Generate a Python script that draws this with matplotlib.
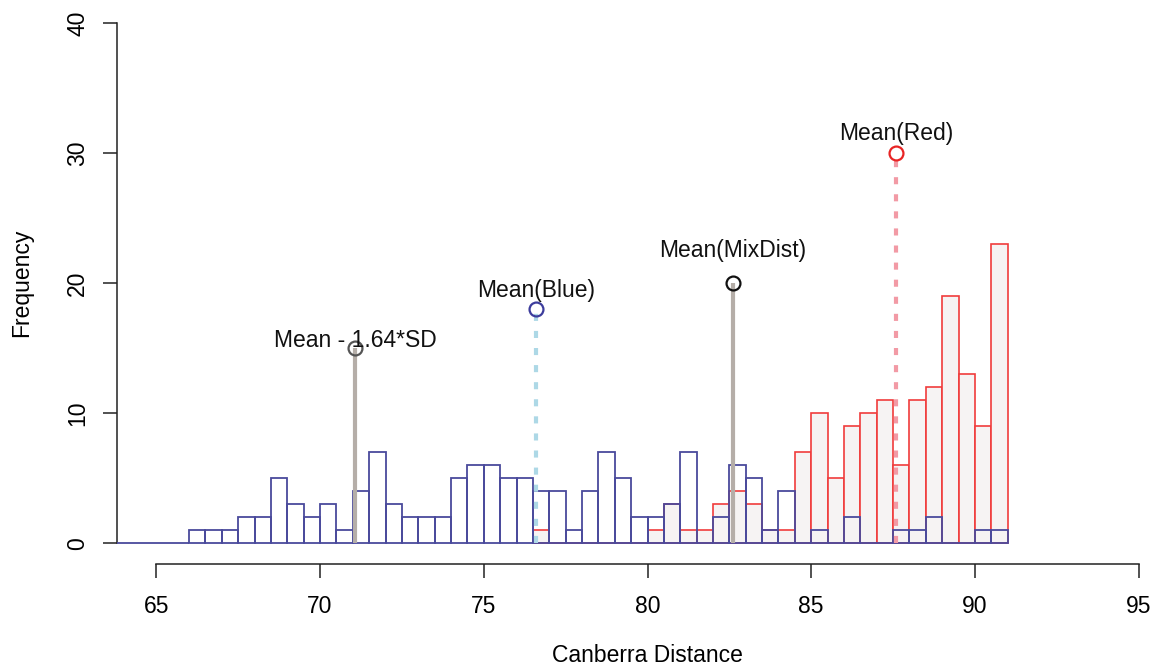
"""Histogram of Canberra distances with mean markers."""
import matplotlib
matplotlib.use("Agg")
import matplotlib.pyplot as plt

# Bins: width 0.5, blue starts at 62.0, red starts at 76.5.
bin_width = 0.5
blue_start = 62.0
blue_counts = [0, 0, 0, 0, 0, 0, 0, 0,
               1, 1, 1, 2, 2, 5, 3, 2, 3, 1, 4, 7, 3, 2, 2, 2, 5, 6, 6, 5, 5,
               4, 4, 1, 4, 7, 5, 2, 2, 3, 7, 0, 2, 6, 5, 1, 4, 0, 1, 0, 2, 0,
               0, 1, 1, 2, 0, 0, 1, 1]
red_start = 76.5
red_counts = [1, 0, 0, 0, 0, 0, 0, 1, 3, 1, 1, 3, 4, 3, 1, 1, 7, 10, 5, 9,
              10, 11, 6, 11, 12, 19, 13, 9, 23]

# Reference lines: (x, top of line, label, label y)
sd_line = (71.08, 15, "Mean - 1.64*SD", 15.55)
blue_mean = (76.6, 18, "Mean(Blue)", 19.45)
mix_mean = (82.6, 20, "Mean(MixDist)", 22.5)
red_mean = (87.6, 30, "Mean(Red)", 31.5)

plt.rcParams.update({'font.family': ['Liberation Sans', 'DejaVu Sans'],
                     'font.size': 16.5})

fig = plt.figure(figsize=(11.56, 6.70), dpi=100)
# plot region runs past the right edge like the cropped original
ax = fig.add_axes([117 / 1156, (670 - 564) / 670,
                   (1178 - 117) / 1156, (564 - 2.2) / 670])
ax.set_xlim(63.8, 96.2)
ax.set_ylim(-1.6, 41.6)

blue_x = [blue_start + i * bin_width for i in range(len(blue_counts))]
red_x = [red_start + i * bin_width for i in range(len(red_counts))]

# red first (filled), blue outlines on top
ax.bar(red_x, red_counts, width=bin_width, align='edge',
       facecolor='#f6f3f3', edgecolor='#f03c3c', linewidth=1.2, zorder=2)
ax.bar(blue_x, blue_counts, width=bin_width, align='edge',
       facecolor='none', edgecolor='#4a4a9c', linewidth=1.3, zorder=3)

# vertical lines
for (x, top, label, ly), col, ls in [
        (sd_line, '#b5aea8', '-'),
        (blue_mean, '#add8e6', (0, (1.7, 2.4))),
        (mix_mean, '#b5aea8', '-'),
        (red_mean, '#f29aa5', (0, (1.7, 2.4)))]:
    ax.plot([x, x], [0, top], color=col, linewidth=3, linestyle=ls,
            solid_capstyle='butt', dash_capstyle='butt', zorder=4)

for (x, top, label, ly), mcol in [(sd_line, '#555555'),
                                   (blue_mean, '#3c3c9c'),
                                   (mix_mean, '#111111'),
                                   (red_mean, '#e82424')]:
    ax.plot([x], [top], marker='o', markersize=10, markerfacecolor='none',
            markeredgecolor=mcol, markeredgewidth=1.6, zorder=5)
    ax.text(x, ly, label, ha='center', va='center', color='#111111',
            zorder=6)

# R style axes
for side in ('top', 'right'):
    ax.spines[side].set_visible(False)
ax.spines['left'].set_bounds(0, 40)
ax.spines['bottom'].set_bounds(65, 95)
for side in ('left', 'bottom'):
    ax.spines[side].set_linewidth(1.1)
    ax.spines[side].set_color('#222222')
ax.set_xticks([65, 70, 75, 80, 85, 90, 95])
ax.set_yticks([0, 10, 20, 30, 40])
ax.tick_params(axis='both', length=10, width=1.1, color='#222222',
               labelsize=16.5)
ax.tick_params(axis='x', pad=12)
ax.tick_params(axis='y', labelrotation=90, pad=10)
for lab in ax.get_yticklabels():
    lab.set_va('center')

ax.set_xlabel("Canberra Distance")
ax.xaxis.set_label_coords(0.5, -(655 - 564) / 561.8)
ax.xaxis.label.set_va('center')
ax.set_ylabel("Frequency")
ax.yaxis.set_label_coords(-(117 - 22) / 1061, 0.5)
ax.yaxis.label.set_va('center')

plt.savefig("out.png", dpi=100)
